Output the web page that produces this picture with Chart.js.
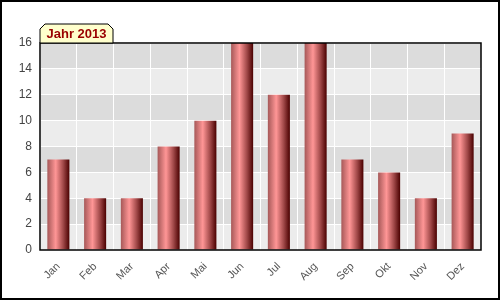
<!DOCTYPE html>
<html>
<head>
<meta charset="utf-8">
<script src="https://cdn.jsdelivr.net/npm/chart.js@4/dist/chart.umd.min.js"></script>
<style>
	html, body { margin: 0; padding: 0; background: #fff; }
	#wrap { width: 500px; height: 300px; }
</style>
</head>
<body>
<div id="wrap"><canvas id="jahrChart" width="500" height="300"></canvas></div>
<script>
const months = ["Jan", "Feb", "Mar", "Apr", "Mai", "Jun", "Jul", "Aug", "Sep", "Okt", "Nov", "Dez"];
const values = [7, 4, 4, 8, 10, 16, 12, 16, 7, 6, 4, 9];
const yTicks = [0, 2, 4, 6, 8, 10, 12, 14, 16];
const title = "Jahr 2013";

// horizontal "cylinder" gradient for every bar
function barGradient(context) {
	const chart = context.chart;
	const xScale = chart.scales.x;
	if (!chart.chartArea || !xScale) return "#d06a6a";
	const center = xScale.getPixelForValue(context.dataIndex);
	const half = (xScale.width / months.length) * 0.6 / 2;
	const g = chart.ctx.createLinearGradient(center - half, 0, center + half, 0);
	g.addColorStop(0, "#a65858");
	g.addColorStop(0.38, "#ff9696");
	g.addColorStop(0.72, "#a04848");
	g.addColorStop(1, "#4a0000");
	return g;
}

const bandsPlugin = {
	id: "bands",
	beforeDraw(chart) {
		const ctx = chart.ctx;
		const area = chart.chartArea;
		const y = chart.scales.y;
		ctx.save();
		for (let i = 0; i < yTicks.length - 1; i++) {
			const top = y.getPixelForValue(yTicks[i + 1]);
			const bottom = y.getPixelForValue(yTicks[i]);
			ctx.fillStyle = i % 2 === 0 ? "#ececec" : "#dcdcdc";
			ctx.fillRect(area.left, top, area.right - area.left, bottom - top);
		}
		ctx.restore();
	},
	afterDraw(chart) {
		const ctx = chart.ctx;
		const area = chart.chartArea;
		ctx.save();
		// plot frame
		ctx.strokeStyle = "#000";
		ctx.lineWidth = 1.5;
		ctx.strokeRect(area.left, area.top, area.right - area.left, area.bottom - area.top);
		// outer frame
		ctx.lineWidth = 2;
		ctx.strokeRect(1, 1, chart.width - 2, chart.height - 2);
		// title tab
		const l = area.left, t = area.top - 19, r = area.left + 73, b = area.top;
		ctx.beginPath();
		ctx.moveTo(l, b);
		ctx.lineTo(l, t + 5);
		ctx.lineTo(l + 5, t);
		ctx.lineTo(r - 5, t);
		ctx.lineTo(r, t + 5);
		ctx.lineTo(r, b);
		ctx.closePath();
		ctx.fillStyle = "#ffffcc";
		ctx.fill();
		ctx.lineWidth = 1;
		ctx.stroke();
		ctx.fillStyle = "#990000";
		ctx.font = "bold 13px 'Liberation Sans', Arial, sans-serif";
		ctx.textBaseline = "middle";
		ctx.textAlign = "center";
		ctx.fillText(title, (l + r) / 2, t + 10);
		ctx.restore();
	},
};

var jahrChart = new Chart(document.getElementById("jahrChart"), {
	type: "bar",
	data: {
		labels: months,
		datasets: [
			{
				label: title,
				data: values,
				backgroundColor: barGradient,
				borderWidth: 0,
				categoryPercentage: 1,
				barPercentage: 0.6,
			},
		],
	},
	options: {
		responsive: false,
		animation: false,
		layout: {
			padding: { left: 0, top: 43, right: 19, bottom: 0 },
		},
		scales: {
			x: {
				grid: { color: "#fff", lineWidth: 1, drawTicks: false, offset: true },
				border: { display: false },
				ticks: {
					color: "#555",
					font: { family: "'Liberation Sans', Arial, sans-serif", size: 11 },
					minRotation: 45,
					maxRotation: 45,
					padding: 10,
				},
				afterFit: function (scale) {
					scale.height = 50;
				},
			},
			y: {
				min: 0,
				max: 16,
				grid: { color: "#fff", lineWidth: 1, drawTicks: false },
				border: { display: false },
				ticks: {
					stepSize: 2,
					color: "#444",
					font: { family: "'Liberation Sans', Arial, sans-serif", size: 12 },
					padding: 8,
				},
				afterFit: function (scale) {
					scale.width = 40;
				},
			},
		},
		plugins: {
			legend: { display: false },
			tooltip: { enabled: false },
		},
	},
	plugins: [bandsPlugin],
});
</script>
</body>
</html>
